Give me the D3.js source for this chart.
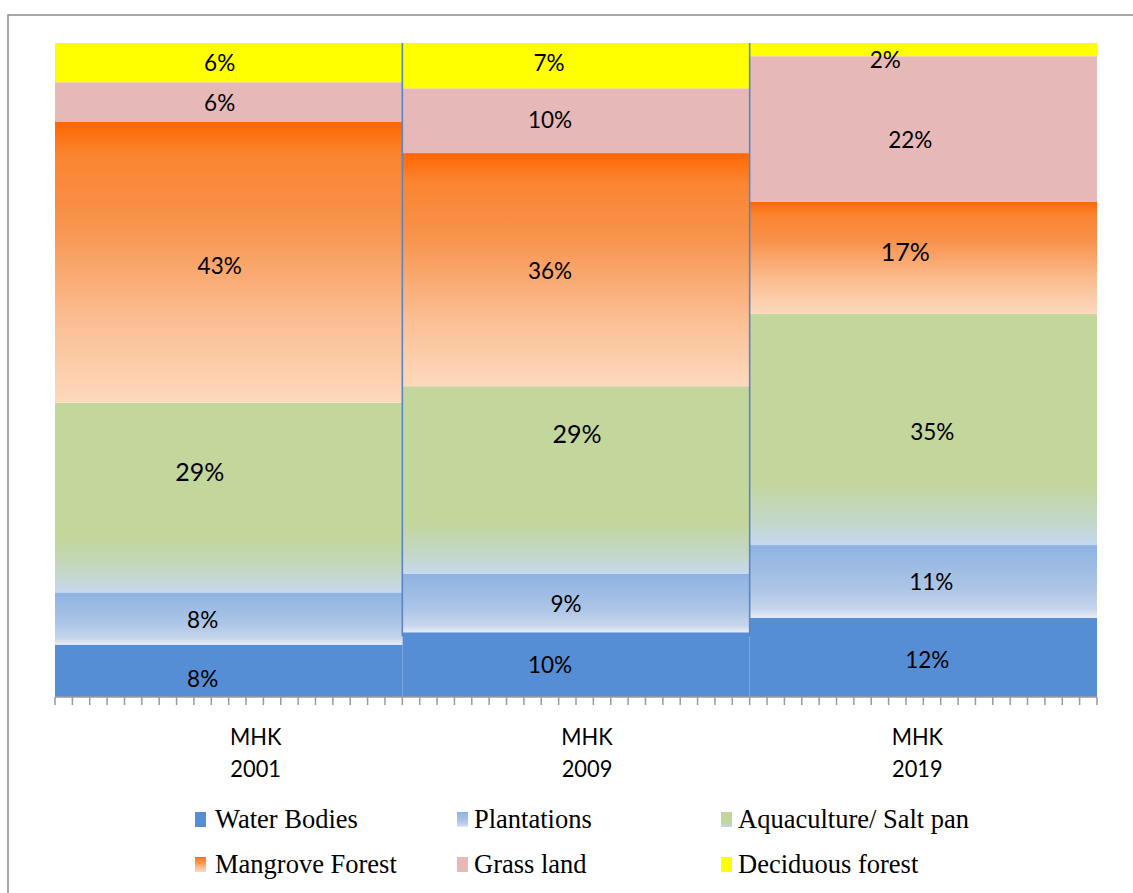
<!DOCTYPE html>
<html lang="en">
<head>
<meta charset="UTF-8">
<title>Land use MHK</title>
<script src="https://d3js.org/d3.v7.min.js"></script>
<style>
  body { margin: 0; background: #fff; }
  .pct { font-family: Lato, "Open Sans", sans-serif; fill: #000; }
  .cat { font-family: Lato, "Open Sans", sans-serif; font-size: 23px; fill: #000; }
  .leg { font-family: "Liberation Serif", "DejaVu Serif", serif; font-size: 26.5px; fill: #000; }
</style>
</head>
<body>
<div class="canvas"></div>
<script>
  const width = 1133
  const height = 893

  // data (percent of area)
  const years = ['2001', '2009', '2019']
  const classes = ['Water Bodies', 'Plantations', 'Aquaculture/ Salt pan', 'Mangrove Forest', 'Grass land', 'Deciduous forest']
  const waterBodies = [8, 10, 12]
  const plantations = [8, 9, 11]
  const aquaculture = [29, 29, 35]
  const mangrove = [43, 36, 17]
  const grassLand = [6, 10, 22]
  const deciduous = [6, 7, 2]

  const series = [waterBodies, plantations, aquaculture, mangrove, grassLand, deciduous]
  const rows = years.map((y, i) => {
    const r = { year: y }
    classes.forEach((c, k) => r[c] = series[k][i])
    return r
  })

  // label nudges (hand placed in the original), [dx, dy] per class per year
  const nudge = [
    [[-26, 8], [-26, 1], [-29, -27], [-9, 3], [-9, 1], [-9, 0]],
    [[-26, 0], [-10, 0], [1, -47], [-26, 1], [-26, -1], [-27, -3]],
    [[4, 2], [8, 0], [9, 2], [-18, -7], [-13, 11], [-38, 10]]
  ]
  const bigLabel = [[0, 0, 1, 0, 0, 0], [0, 0, 1, 0, 0, 0], [0, 0, 0, 1, 0, 0]]
  const catNudge = [27, 11, -6]

  const [mt, mb, ml, mr] = [43, 196, 55, 36]
  const gw = width - ml - mr
  const gh = height - mt - mb

  const svg = d3.select('.canvas').append('svg')
    .attr('width', width).attr('height', height)

  // gradients
  const defs = svg.append('defs')
  const grad = (id, stops) => {
    const g = defs.append('linearGradient').attr('id', id)
      .attr('x1', 0).attr('y1', 0).attr('x2', 0).attr('y2', 1)
    stops.forEach(s => g.append('stop').attr('offset', s[0]).attr('stop-color', s[1]))
  }
  grad('g0', [[0, '#558ed5'], [1, '#558ed5']])
  grad('g1', [[0, '#8db3e2'], [0.6, '#adc5e6'], [0.88, '#c6d5ec'], [1, '#e8eef7']])
  grad('g2', [[0, '#c3d69b'], [0.72, '#c3d69b'], [0.9, '#c4d7c9'], [1, '#c6d9f0']])
  grad('g3', [[0, '#ff6600'], [0.12, '#fb8430'], [0.35, '#f8924b'], [0.7, '#fbbd91'], [1, '#fdd9bd']])
  grad('g4', [[0, '#e6b9b8'], [1, '#e6b9b8']])
  grad('g5', [[0, '#ffff00'], [1, '#ffff00']])

  // frame
  svg.append('rect').attr('x', 8).attr('y', 15).attr('width', 1200).attr('height', 1000)
    .attr('fill', 'none').attr('stroke', '#8c8c8c').attr('stroke-width', 1.5)

  const graph = svg.append('g').attr('transform', `translate(${ml}, ${mt})`)

  const x = d3.scaleBand().domain(years).range([0, gw]).padding(0)
  const y = d3.scaleLinear().domain([0, 1]).range([gh, 0])

  const stack = d3.stack().keys(classes).offset(d3.stackOffsetExpand)
  const layers = stack(rows)

  const layerG = graph.selectAll('g.layer').data(layers).enter()
    .append('g').attr('class', 'layer')
    .attr('fill', (d, k) => `url(#g${k})`)

  layerG.selectAll('rect').data(d => d).enter().append('rect')
    .attr('x', d => x(d.data.year))
    .attr('width', x.bandwidth())
    .attr('y', d => y(d[1]))
    .attr('height', d => y(d[0]) - y(d[1]))

  // thin blue edges left over in the original between bars
  graph.selectAll('line.sep').data(years.slice(1)).enter().append('line')
    .attr('x1', d => x(d)).attr('x2', d => x(d))
    .attr('y1', y(1)).attr('y2', y(layers[0][1][1]) + 4)
    .attr('stroke', '#5a86c4').attr('stroke-width', 1.6)

  // labels
  layers.forEach((layer, k) => {
    layer.forEach((d, i) => {
      const [dx, dy] = nudge[i][k]
      graph.append('text').attr('class', 'pct')
        .attr('x', x(d.data.year) + x.bandwidth() / 2 + dx)
        .attr('y', (y(d[0]) + y(d[1])) / 2 + dy)
        .attr('text-anchor', 'middle')
        .attr('dominant-baseline', 'central')
        .style('font-size', bigLabel[i][k] ? '25px' : '22.5px')
        .text(series[k][i] + '%')
    })
  })

  // x axis with minor ticks
  const axisG = graph.append('g').attr('transform', `translate(0, ${gh})`)
  axisG.append('line').attr('x1', 0).attr('x2', gw)
    .attr('stroke', '#9a9a9a').attr('stroke-width', 1.5)
  const tickX = []
  years.forEach(yr => d3.range(20).forEach(j => tickX.push(x(yr) + j * x.bandwidth() / 20)))
  tickX.push(gw)
  axisG.selectAll('line.tick').data(tickX).enter().append('line')
    .attr('x1', d => d).attr('x2', d => d).attr('y1', 0).attr('y2', 8)
    .attr('stroke', '#9a9a9a').attr('stroke-width', 1.5)

  const cat = axisG.selectAll('text.cat').data(years).enter().append('text')
    .attr('class', 'cat').attr('text-anchor', 'middle')
    .attr('transform', (d, i) => `translate(${x(d) + x.bandwidth() / 2 + catNudge[i]}, 0) scale(0.95, 1)`)
  cat.append('tspan').attr('x', 0).attr('y', 48).text('MHK')
  cat.append('tspan').attr('x', 0).attr('y', 80).text(d => d)

  // legend
  const legX = [195, 457, 721]
  const legY = [812, 857]
  const leg = svg.selectAll('g.legend').data(classes).enter().append('g')
    .attr('transform', (d, k) => `translate(${legX[k % 3]}, ${legY[Math.floor(k / 3)]})`)
  leg.append('rect').attr('width', 11).attr('height', 15)
    .attr('fill', (d, k) => `url(#g${k})`)
  leg.append('text').attr('class', 'leg').attr('x', (d, k) => k % 3 === 0 ? 20 : 17).attr('y', 16)
    .text(d => d)
</script>
</body>
</html>
